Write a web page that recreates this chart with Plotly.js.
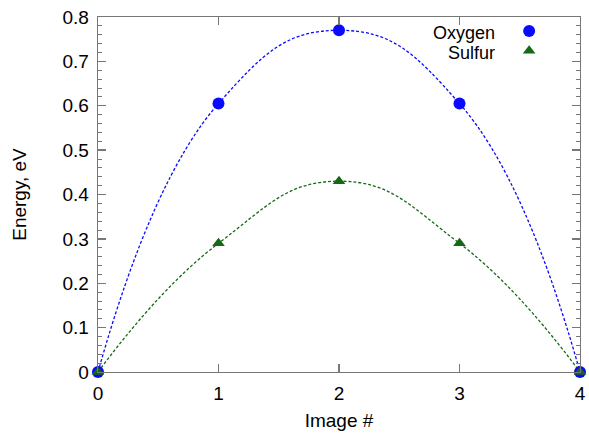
<!DOCTYPE html>
<html>
<head>
<meta charset="utf-8">
<script src="https://cdn.plot.ly/plotly-3.0.1.min.js"></script>
<style>html,body{margin:0;padding:0;background:#fff;}#chart{width:589px;height:433px;}</style>
</head>
<body>
<div id="chart"></div>
<script>
var images = [0, 1, 2, 3, 4];
var oxygen = [0, 0.605, 0.77, 0.605, 0];
var sulfur = [0, 0.29, 0.43, 0.29, 0];
var xTicks = [0, 1, 2, 3, 4];
var yTicks = [0, 0.1, 0.2, 0.3, 0.4, 0.5, 0.6, 0.7, 0.8];
var seriesNames = ['Oxygen', 'Sulfur'];

var blue = 'rgb(10,10,255)';
var green = 'rgb(20,105,20)';
var font = 'Liberation Sans, Arial, sans-serif';
var fs = 19;

var traces = [
  {x: images, y: oxygen, mode: 'lines', line: {color: blue, width: 1.3, dash: '3px,2px', shape: 'spline', smoothing: 1.3}, showlegend: false, hoverinfo: 'skip'},
  {x: images, y: sulfur, mode: 'lines', line: {color: green, width: 1.3, dash: '3px,2px', shape: 'spline', smoothing: 1.3}, showlegend: false, hoverinfo: 'skip'},
  {x: images, y: oxygen, mode: 'markers', name: ' ', cliponaxis: false, marker: {color: blue, size: 12, symbol: 'circle'}, showlegend: true},
  {x: images, y: sulfur, mode: 'markers', name: ' ', cliponaxis: false, marker: {color: green, size: 11, symbol: 'triangle-up'}, showlegend: true}
];

var axisCommon = {
  showgrid: false, zeroline: false, showline: true, linecolor: '#777', linewidth: 1.3,
  mirror: 'ticks', ticks: 'inside', tickcolor: '#777', tickwidth: 1.3, ticklen: 8,
  tickfont: {family: font, size: fs, color: '#000'}
};

var layout = {
  width: 589, height: 433,
  margin: {l: 98, r: 9, t: 17, b: 61},
  paper_bgcolor: '#fff', plot_bgcolor: '#fff',
  font: {family: font, size: fs, color: '#000'},
  xaxis: Object.assign({}, axisCommon, {
    range: [0, 4], tickvals: xTicks, ticktext: xTicks.map(String),
    ticklabelstandoff: 4,
    title: {text: 'Image #', font: {family: font, size: fs}, standoff: 10}
  }),
  yaxis: Object.assign({}, axisCommon, {
    range: [0, 0.8], tickvals: yTicks, ticktext: yTicks.map(function(v){return v === 0 ? '0' : v.toFixed(1);}),
    ticklabelstandoff: 4,
    minor: {dtick: 0.02, ticks: 'inside', ticklen: 4, tickcolor: '#777', tickwidth: 1},
    title: {text: 'Energy, eV', font: {family: font, size: fs}, standoff: 30}
  }),
  showlegend: true,
  legend: {x: 0.853, y: 1.003, xanchor: 'left', yanchor: 'top', bgcolor: 'rgba(0,0,0,0)', borderwidth: 0, font: {family: font, size: 13}, tracegroupgap: 0},
  annotations: [
    {xref: 'paper', yref: 'paper', x: 0.8257, y: 0.9563, xanchor: 'right', yanchor: 'middle', borderpad: 0, text: seriesNames[0], showarrow: false, font: {family: font, size: 18, color: '#000'}},
    {xref: 'paper', yref: 'paper', x: 0.8257, y: 0.8972, xanchor: 'right', yanchor: 'middle', borderpad: 0, text: seriesNames[1], showarrow: false, font: {family: font, size: 18, color: '#000'}}
  ]
};

Plotly.newPlot('chart', traces, layout, {displayModeBar: false, staticPlot: true});
</script>
</body>
</html>
